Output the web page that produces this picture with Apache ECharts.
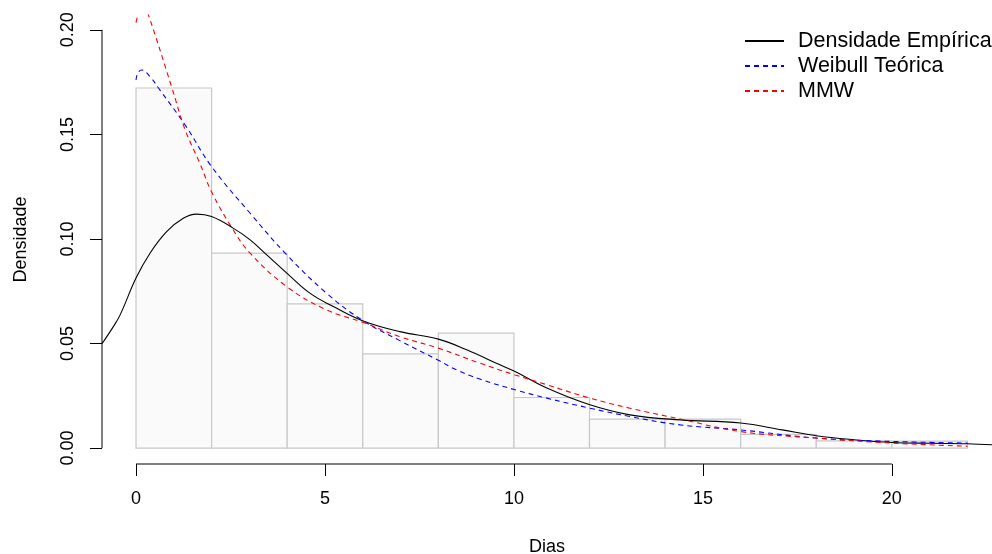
<!DOCTYPE html>
<html>
<head>
<meta charset="utf-8">
<script src="https://cdn.jsdelivr.net/npm/echarts@6/dist/echarts.min.js"></script>
<style>
  html, body { margin: 0; padding: 0; background: #fff; }
  #main { width: 992px; height: 554px; }
</style>
</head>
<body>
<div id="main"></div>
<script>
// histogram (density scale), bins of width 2
var binEdges = [0, 2, 4, 6, 8, 10, 12, 14, 16, 18, 20, 22];
var binHeights = [0.1722, 0.0932, 0.069, 0.0451, 0.055, 0.0242, 0.0139, 0.0139, 0.0066, 0.0035, 0.0033];

// empirical density (black)
var empX = [-0.9, -0.6, -0.42, 0, 0.37, 0.81, 1.25, 1.6, 2.0, 2.57, 3.02, 3.46, 3.99, 4.6, 5.22, 6.01, 6.98, 8.0, 8.75, 9.63, 10.03, 10.87, 12.01, 13.07, 14.4, 16.0, 17.1, 18.0, 19.0, 20.0, 21.0, 22.0, 22.65];
var empY = [0.0499, 0.0581, 0.0637, 0.0813, 0.0932, 0.1035, 0.1099, 0.1119, 0.1107, 0.1052, 0.0996, 0.0924, 0.0837, 0.0741, 0.0677, 0.0608, 0.0557, 0.0521, 0.047, 0.0398, 0.0366, 0.0287, 0.0207, 0.0159, 0.0135, 0.012, 0.0087, 0.0059, 0.004, 0.0027, 0.0023, 0.0021, 0.0016];

// weibull teorica (blue)
var weiX = [0, 0.05, 0.15, 0.37, 0.63, 1.3, 2.0, 3.02, 3.99, 5.04, 6.01, 6.98, 8.0, 8.48, 9.1, 10.03, 10.87, 12.01, 13.07, 14.4, 16.0, 18.0, 20.0, 22.0];
var weiY = [0.176, 0.1795, 0.1808, 0.1776, 0.1713, 0.1545, 0.1346, 0.1123, 0.0924, 0.0741, 0.0609, 0.0514, 0.042, 0.0374, 0.033, 0.0279, 0.0239, 0.0191, 0.0151, 0.0111, 0.0087, 0.0048, 0.0032, 0.0024];

// MMW (red)
var mmwX = [0, 0.1, 0.2, 0.33, 0.94, 1.3, 1.69, 2.0, 2.57, 3.02, 3.99, 5.04, 6.01, 6.98, 8.0, 9.1, 10.03, 10.87, 12.01, 13.07, 14.4, 16.0, 18.0, 20.0, 22.0];
var mmwY = [0.2035, 0.2095, 0.2115, 0.207, 0.1729, 0.1522, 0.1362, 0.1225, 0.1044, 0.0932, 0.0772, 0.0661, 0.0601, 0.0533, 0.0478, 0.0406, 0.035, 0.0303, 0.0239, 0.0191, 0.0139, 0.0079, 0.0048, 0.0024, 0.0009];

var xTicks = [0, 5, 10, 15, 20];
var yTicks = [0, 0.05, 0.1, 0.15, 0.2];
var xMin = -0.9, xMax = 22.65;
var yMin = -0.0076, yMax = 0.2071;

function pairs(xs, ys) {
    var out = [];
    for (var i = 0; i < xs.length; i++) out.push([xs[i], ys[i]]);
    return out;
}

var histData = [];
for (var i = 0; i < binHeights.length; i++) {
    histData.push([binEdges[i], binEdges[i + 1], binHeights[i]]);
}

var myChart = echarts.init(document.getElementById('main'));
var font = 'Liberation Sans, Arial, sans-serif';

var option = {
    animation: false,
    backgroundColor: '#fff',
    textStyle: { fontFamily: font },
    grid: { left: 102, right: 0, top: 15, bottom: 90, containLabel: false, outerBoundsMode: 'none' },
    legend: {
        orient: 'vertical',
        left: 739,
        top: 25,
        itemWidth: 39,
        itemHeight: 14,
        itemGap: 3,
        itemStyle: { opacity: 0 },
        data: ['Densidade Empírica', 'Weibull Teórica', 'MMW'],
        textStyle: { fontSize: 21.5, color: '#000', fontFamily: font, padding: [0, 0, 0, 9] }
    },
    xAxis: {
        type: 'value',
        min: xMin,
        max: xMax,
        name: 'Dias',
        nameLocation: 'middle',
        nameGap: 74,
        nameTextStyle: { fontSize: 18, color: '#000', fontFamily: font },
        axisLine: { show: false, onZero: false },
        splitLine: { show: false },
        axisTick: {
            show: true,
            customValues: xTicks,
            length: 12,
            lineStyle: { color: '#000', width: 1 }
        },
        axisLabel: {
            customValues: xTicks,
            fontSize: 18,
            color: '#000',
            margin: 26,
            fontFamily: font
        }
    },
    yAxis: {
        type: 'value',
        min: yMin,
        max: yMax,
        name: 'Densidade',
        nameLocation: 'middle',
        nameRotate: 90,
        nameGap: 72,
        nameTextStyle: { fontSize: 18, color: '#000', fontFamily: font },
        axisLine: { show: false, onZero: false },
        splitLine: { show: false },
        axisTick: {
            show: true,
            customValues: yTicks,
            length: 12,
            lineStyle: { color: '#000', width: 1 }
        },
        axisLabel: {
            customValues: yTicks,
            rotate: 90,
            fontSize: 18,
            color: '#000',
            margin: 25,
            fontFamily: font,
            formatter: function (v) { return v.toFixed(2); }
        }
    },
    series: [{
        name: 'hist',
        type: 'custom',
        z: 1,
        silent: true,
        data: histData,
        renderItem: function (params, api) {
            var p0 = api.coord([api.value(0), api.value(2)]);
            var p1 = api.coord([api.value(1), 0]);
            return {
                type: 'rect',
                shape: { x: p0[0], y: p0[1], width: p1[0] - p0[0], height: p1[1] - p0[1] },
                style: { fill: '#fafafa', stroke: '#c8c8c8', lineWidth: 1.2 }
            };
        }
    }, {
        name: 'Densidade Empírica',
        type: 'line',
        z: 3,
        smooth: 0.4,
        symbol: 'none',
        data: pairs(empX, empY),
        lineStyle: { color: '#000', width: 1.1 },
        itemStyle: { color: '#000' }
    }, {
        name: 'Weibull Teórica',
        type: 'line',
        z: 3,
        smooth: 0.4,
        symbol: 'none',
        data: pairs(weiX, weiY),
        lineStyle: { color: '#0000ff', width: 1.1, type: [5, 4] },
        itemStyle: { color: '#0000ff' }
    }, {
        name: 'MMW',
        type: 'line',
        z: 3,
        smooth: 0.4,
        symbol: 'none',
        data: pairs(mmwX, mmwY),
        lineStyle: { color: '#ff0000', width: 1.1, type: [5, 4] },
        itemStyle: { color: '#ff0000' }
    }, {
        // axis lines only span first..last tick, like base R
        name: 'xline',
        type: 'line',
        clip: false,
        silent: true,
        symbol: 'none',
        data: [[xTicks[0], yMin], [xTicks[xTicks.length - 1], yMin]],
        lineStyle: { color: '#000', width: 1 }
    }, {
        name: 'yline',
        type: 'line',
        clip: false,
        silent: true,
        symbol: 'none',
        data: [[xMin, yTicks[0]], [xMin, yTicks[yTicks.length - 1]]],
        lineStyle: { color: '#000', width: 1 }
    }]
};

myChart.setOption(option);
</script>
</body>
</html>
